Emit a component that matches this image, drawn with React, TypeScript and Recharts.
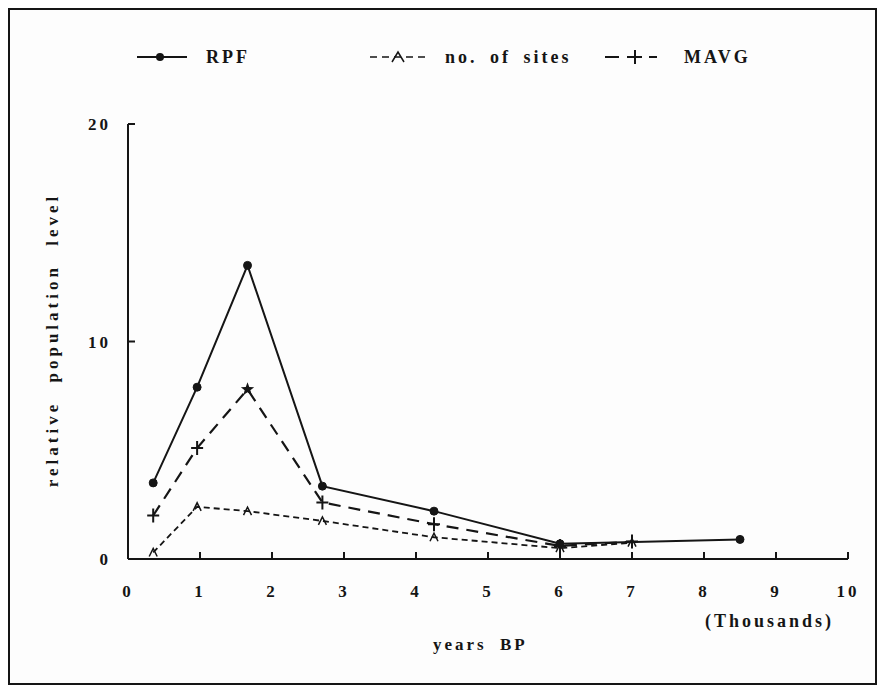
import React from 'react';
import { LineChart, Line, XAxis, YAxis } from 'recharts';

// years BP (thousands) and relative population level
const rpfYears = [0.35, 0.96, 1.66, 2.7, 4.25, 6, 8.5];
const rpfLevel = [3.5, 7.9, 13.5, 3.35, 2.2, 0.7, 0.9];

const siteYears = [0.35, 0.96, 1.66, 2.7, 4.25, 6, 7];
const siteLevel = [0.3, 2.4, 2.2, 1.75, 1.0, 0.5, 0.75];

const mavgYears = [0.35, 0.96, 1.66, 2.7, 4.25, 6, 7];
const mavgLevel = [2.0, 5.1, 7.8, 2.6, 1.6, 0.6, 0.8];

const xTicks = [0, 1, 2, 3, 4, 5, 6, 7, 8, 9, 10];
const yTicks = [0, 10, 20];

const rpfData = rpfYears.map((x, i) => ({ x, y: rpfLevel[i] }));
const siteData = siteYears.map((x, i) => ({ x, y: siteLevel[i] }));
const mavgData = mavgYears.map((x, i) => ({ x, y: mavgLevel[i] }));

const INK = '#151515';
const FONT = '"Liberation Serif", "DejaVu Serif", serif';

const CircleDot = (props: any) => {
  const { cx, cy } = props;
  if (cx == null || cy == null) return null;
  return <circle cx={cx} cy={cy} r={4} fill={INK} stroke={INK} />;
};

const CaretDot = (props: any) => {
  const { cx, cy } = props;
  if (cx == null || cy == null) return null;
  return (
    <path
      d={`M${cx - 4},${cy + 4} L${cx},${cy - 4} L${cx + 4},${cy + 4}`}
      fill="none"
      stroke={INK}
      strokeWidth={1.5}
    />
  );
};

const PlusDot = (props: any) => {
  const { cx, cy, index } = props;
  if (cx == null || cy == null) return null;
  if (index === 2) {
    // the peak is printed as a star
    const pts: string[] = [];
    for (let i = 0; i < 10; i++) {
      const r = i % 2 === 0 ? 7 : 3;
      const a = (Math.PI / 5) * i - Math.PI / 2;
      pts.push(`${cx + r * Math.cos(a)},${cy + r * Math.sin(a)}`);
    }
    return <polygon points={pts.join(' ')} fill={INK} />;
  }
  return (
    <path
      d={`M${cx - 6},${cy} L${cx + 6},${cy} M${cx},${cy - 7} L${cx},${cy + 7}`}
      stroke={INK}
      strokeWidth={2}
    />
  );
};

const tickStyle = { fill: INK, fontFamily: FONT, fontWeight: 'bold', fontSize: 17, letterSpacing: 3 };

const LegendBox = () => (
  <svg
    width={865}
    height={80}
    style={{ position: 'absolute', left: 0, top: 0, overflow: 'visible' }}
  >
    <g fontFamily={FONT} fontWeight="bold" fontSize={18} fill={INK} letterSpacing={3} wordSpacing={5}>
      <line x1={127} y1={47} x2={177} y2={47} stroke={INK} strokeWidth={2} />
      <circle cx={150} cy={47} r={4} fill={INK} />
      <text x={196} y={53}>RPF</text>

      <line x1={360} y1={47} x2={415} y2={47} stroke={INK} strokeWidth={1.5} strokeDasharray="7 5" />
      <path d="M382,52 L388,42 L394,52" fill="none" stroke={INK} strokeWidth={1.5} />
      <text x={435} y={53}>no. of sites</text>

      <line x1={595} y1={47} x2={647} y2={47} stroke={INK} strokeWidth={2} strokeDasharray="14 8" />
      <path d="M618,47 L632,47 M625,40 L625,54" stroke={INK} strokeWidth={2} />
      <text x={674} y={53}>MAVG</text>
    </g>
  </svg>
);

const App: React.FC = () => {
  return (
    <div
      style={{
        position: 'relative',
        width: 869,
        height: 677,
        border: `2px solid ${INK}`,
        background: '#fdfdfd',
        boxSizing: 'border-box',
      }}
    >
      <LineChart
        width={865}
        height={673}
        margin={{ top: 114, right: 27, left: 78, bottom: 94 }}
      >
        <XAxis
          type="number"
          dataKey="x"
          domain={[0, 10]}
          ticks={xTicks}
          allowDuplicatedCategory={false}
          stroke={INK}
          strokeWidth={2}
          tickSize={-7}
          tickMargin={33}
          tick={tickStyle}
          height={30}
        />
        <YAxis
          type="number"
          dataKey="y"
          domain={[0, 20]}
          ticks={yTicks}
          stroke={INK}
          strokeWidth={2}
          tickSize={-7}
          tickMargin={24}
          tick={tickStyle}
          width={40}
        />
        <Line
          data={siteData}
          dataKey="y"
          name="no. of sites"
          stroke={INK}
          strokeWidth={1.8}
          strokeDasharray="6 4"
          dot={<CaretDot />}
          isAnimationActive={false}
        />
        <Line
          data={mavgData}
          dataKey="y"
          name="MAVG"
          stroke={INK}
          strokeWidth={2.2}
          strokeDasharray="12 8"
          dot={<PlusDot />}
          isAnimationActive={false}
        />
        <Line
          data={rpfData}
          dataKey="y"
          name="RPF"
          stroke={INK}
          strokeWidth={2}
          dot={<CircleDot />}
          isAnimationActive={false}
        />
      </LineChart>
      <LegendBox />
      <div
        style={{
          position: 'absolute',
          left: 43,
          top: 330,
          transform: 'translate(-50%, -50%) rotate(-90deg)',
          whiteSpace: 'nowrap',
          fontFamily: FONT,
          fontWeight: 'bold',
          fontSize: 17,
          letterSpacing: 4,
          wordSpacing: 10,
          color: INK,
        }}
      >
        relative population level
      </div>
      <div
        style={{
          position: 'absolute',
          left: 423,
          top: 625,
          fontFamily: FONT,
          fontWeight: 'bold',
          fontSize: 17,
          letterSpacing: 3,
          wordSpacing: 6,
          color: INK,
        }}
      >
        years BP
      </div>
      <div
        style={{
          position: 'absolute',
          left: 695,
          top: 601,
          fontFamily: FONT,
          fontWeight: 'bold',
          fontSize: 18,
          letterSpacing: 3,
          color: INK,
        }}
      >
        (Thousands)
      </div>
    </div>
  );
};

export default App;
